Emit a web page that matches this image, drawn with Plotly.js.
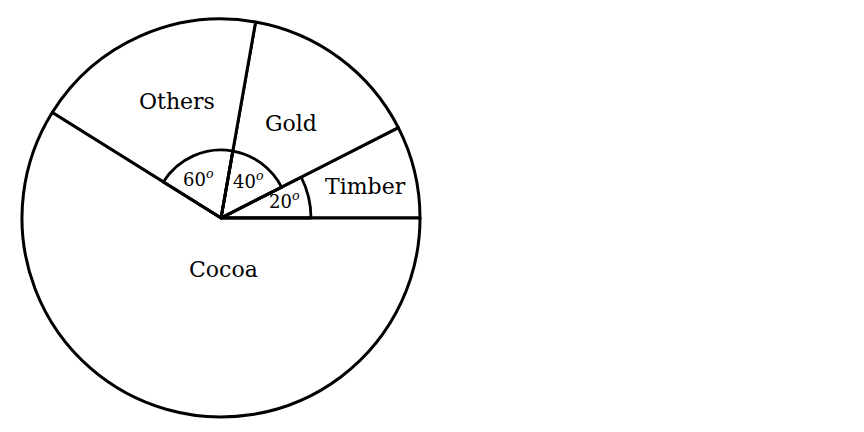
<!DOCTYPE html>
<html>
<head>
<meta charset="utf-8">
<script src="https://cdn.plot.ly/plotly-3.0.1.min.js"></script>
<style>
  html, body { margin: 0; padding: 0; background: #fff; }
  #pie { width: 864px; height: 432px; }
</style>
</head>
<body>
<div id="pie"></div>
<script>
// sectors, counterclockwise from 3 o'clock (angles as drawn, degrees)
var sectors = ['Timber', 'Gold', 'Others', 'Cocoa'];
var sectorDeg = [27, 53, 68, 212];
// angle marks written on the chart
var markText = ['20', '40', '60'];

var W = 864, H = 432;
var cx = 221, cy = 218, R = 199; // pixel centre and radius of the circle

function px(x) { return x / W; }
function py(y) { return 1 - y / H; }

function domainFor(r) {
    return {
        x: [px(cx - r), px(cx + r)],
        y: [py(cy + r), py(cy - r)]
    };
}

var clear = 'rgba(0,0,0,0)';
var total = sectorDeg.reduce(function (a, b) { return a + b; }, 0);
// plotly ends the first slice at the rotation angle, so shift it to start at 3 o'clock
var rot = 90 - sectorDeg[0] * 360 / total;

var main = {
    type: 'pie',
    labels: sectors,
    values: sectorDeg,
    sort: false,
    direction: 'counterclockwise',
    rotation: rot,
    domain: domainFor(R),
    marker: {colors: sectors.map(function () { return '#ffffff'; }),
             line: {color: '#000000', width: 3}},
    textinfo: 'none',
    hoverinfo: 'none',
    showlegend: false
};

// small arcs marking the angles: same slices, only some outlined
function arcTrace(r, show) {
    return {
        type: 'pie',
        labels: sectors,
        values: sectorDeg,
        sort: false,
        direction: 'counterclockwise',
        rotation: rot,
        domain: domainFor(r),
        marker: {colors: sectors.map(function () { return clear; }),
                 line: {color: sectors.map(function (s) { return show.indexOf(s) >= 0 ? '#000000' : clear; }),
                        width: 2.8}},
        textinfo: 'none',
        hoverinfo: 'none',
        showlegend: false
    };
}

var traces = [main, arcTrace(90, ['Timber']), arcTrace(68, ['Gold', 'Others'])];

var serif = 'DejaVu Serif, Liberation Serif, serif';

function note(text, x, y, size) {
    return {
        text: text, xref: 'paper', yref: 'paper',
        x: px(x), y: py(y), xanchor: 'center', yanchor: 'middle',
        showarrow: false, font: {family: serif, size: size, color: '#000000'}
    };
}

var deg = '<sup><i>o</i></sup>';
var notes = [
    note(sectors[0], 365, 186, 22),
    note(sectors[1], 291, 123, 22),
    note(sectors[2], 177, 101, 22),
    note(sectors[3], 223, 269, 22),
    note(markText[0] + deg, 284, 200, 18),
    note(markText[1] + deg, 248, 180, 18),
    note(markText[2] + deg, 198, 178, 18)
];

var layout = {
    width: W, height: H,
    margin: {t: 0, r: 0, l: 0, b: 0},
    paper_bgcolor: '#ffffff',
    showlegend: false,
    annotations: notes
};

Plotly.newPlot('pie', traces, layout, {displayModeBar: false, staticPlot: true});
</script>
</body>
</html>
